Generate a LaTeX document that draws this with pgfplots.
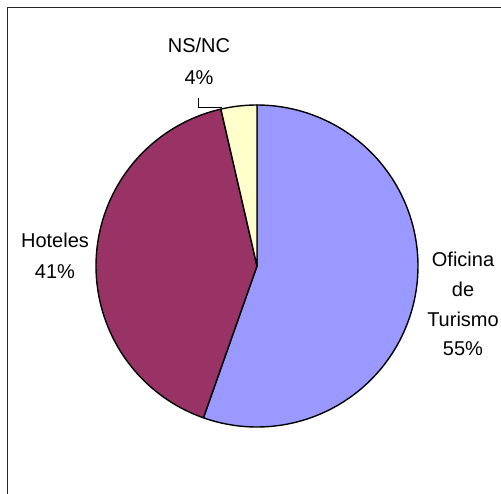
\documentclass[border=0pt]{standalone}
\usepackage{fontspec}
\setmainfont{Liberation Sans}
\usepackage{pgfplots}
\pgfplotsset{compat=1.18}
\definecolor{oficina}{HTML}{9999FF}
\definecolor{hoteles}{HTML}{993366}
\definecolor{nsnc}{HTML}{FFFFCC}
\tikzset{lbl/.style={font=\fontsize{20}{24}\selectfont, anchor=base, inner sep=0pt}}
\begin{document}
\begin{tikzpicture}
\begin{axis}[
  at={(0pt,0pt)}, anchor=south west,
  scale only axis, width=501pt, height=493pt,
  xmin=0, xmax=501, ymin=0, ymax=493,
  hide axis, clip=false,
]
% Pie: Oficina de Turismo 55.4%, Hoteles 41.0%, NS/NC 3.6% (clockwise from 12 o'clock)
% angles: 55.4% -> 199.44 deg, 41.0% -> 147.6 deg, 3.6% -> 12.96 deg
\addplot[fill=oficina, draw=black, line width=1.4pt, line join=round, domain=90:-109.44, samples=120, variable=\t]
  ({257+161*cos(\t)},{227+161*sin(\t)}) -- (axis cs:257,227) -- cycle;
\addplot[fill=hoteles, draw=black, line width=1.4pt, line join=round, domain=-109.44:-257.04, samples=100, variable=\t]
  ({257+161*cos(\t)},{227+161*sin(\t)}) -- (axis cs:257,227) -- cycle;
\addplot[fill=nsnc, draw=black, line width=1.4pt, line join=round, domain=-257.04:-270, samples=20, variable=\t]
  ({257+161*cos(\t)},{227+161*sin(\t)}) -- (axis cs:257,227) -- cycle;
% labels
\node[lbl] at (axis cs:463,226) {Oficina};
\node[lbl] at (axis cs:463,196) {de};
\node[lbl] at (axis cs:463,166) {Turismo};
\node[lbl] at (axis cs:463,138) {55\%};
\node[lbl] at (axis cs:55,245) {Hoteles};
\node[lbl] at (axis cs:55,214) {41\%};
\node[lbl] at (axis cs:199,440) {NS/NC};
\node[lbl] at (axis cs:199,408) {4\%};
% leader line
\draw[black, line width=0.8pt] (axis cs:198,395) -- (axis cs:198,386) -- (axis cs:222,386);
% chart frame (top and left edges visible)
\draw[black!85, line width=1.5pt] (axis cs:7.5,-5) -- (axis cs:7.5,485.5) -- (axis cs:510,485.5);
\end{axis}
\pgfresetboundingbox
\path (0pt,0pt) rectangle (501pt,493pt);
\end{tikzpicture}
\end{document}
